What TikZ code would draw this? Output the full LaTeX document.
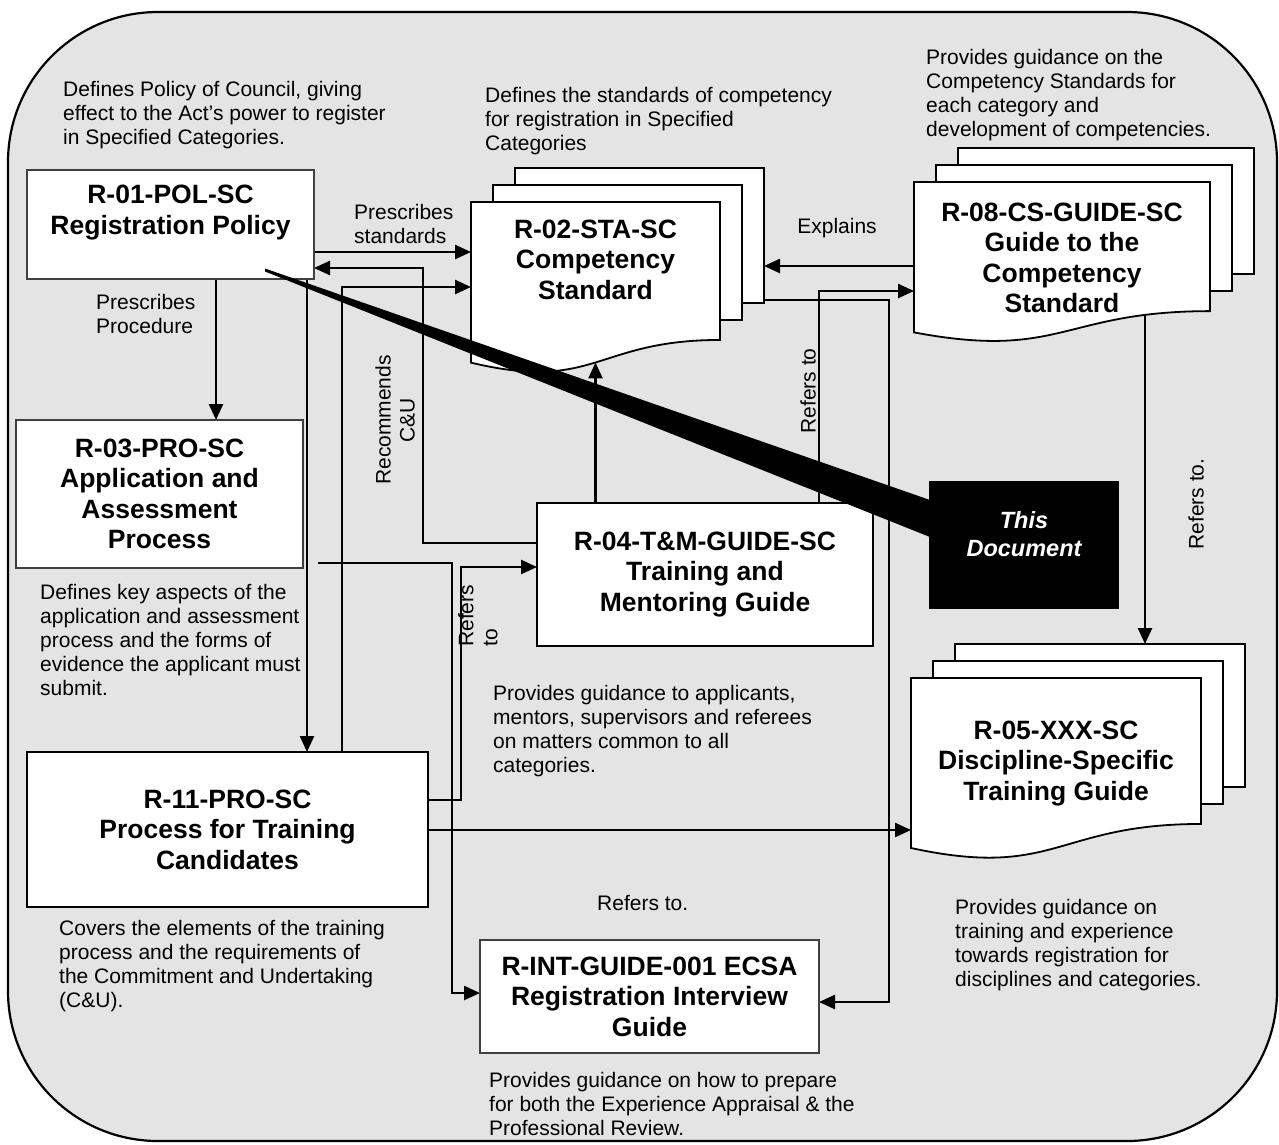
\documentclass[tikz,border=0pt]{standalone}
\usepackage{fontspec}
\setmainfont{Liberation Sans}
\usetikzlibrary{arrows.meta, calc, backgrounds}

\definecolor{panelgray}{gray}{0.895}

% stack of three sheets: name, left x, top y, width, height H, node height, title
\newcommand{\docstack}[7]{%
  \foreach \k in {2,1}
    \filldraw[sheet] (#2+\k*22,#3-\k*17) rectangle (#2+\k*22+#4,#3-\k*17+0.785*#5);
  \filldraw[sheet] (#2,#3) -- (#2+#4,#3) -- (#2+#4,#3+0.802*#5)
    .. controls (#2+0.5*#4,#3+0.802*#5) and (#2+0.5*#4,#3+1.107*#5) .. (#2,#3+0.934*#5) -- cycle;
  \node[title, minimum width=#4pt, minimum height=#6pt, anchor=north west] (#1) at (#2,#3) {#7};
  \coordinate (#1-wave) at (#2+0.5*#4,#3+0.933*#5);
  \coordinate (#1-back) at (#2+44+#4,#3-34);
}

\begin{document}
\begin{tikzpicture}[x=1pt, y=-1pt,
    box/.style={draw=black!75, line width=1.3pt, fill=white, inner sep=0pt, outer sep=0pt},
    title/.style={font=\bfseries\fontsize{26.5}{30.5}\selectfont, align=center, inner sep=0pt, outer sep=0pt},
    note/.style={font=\fontsize{21}{24}\selectfont, align=left, anchor=north west, inner sep=0pt},
    sidenote/.style={font=\fontsize{21}{24}\selectfont, align=center, rotate=90, inner sep=0pt},
    sheet/.style={fill=white, draw=black, line width=1.8pt},
    arrow/.style={-{Triangle[length=16pt,width=14pt]}, line width=2.5pt}
]
    \useasboundingbox (0,0) rectangle (1279,1144);
    \begin{scope}[on background layer]
        \draw[fill=panelgray, line width=2.2pt, rounded corners=150pt] (8,12) rectangle (1277,1141);
    \end{scope}

    % boxes
    \node[box, minimum width=287pt, minimum height=109pt,
          label={[title, yshift=12pt]center:{R-01-POL-SC\\Registration Policy}}] (r01) at (170.5,224.5) {};
    \node[box, title, minimum width=287pt, minimum height=148pt] (r03) at (159.5,494) {R-03-PRO-SC\\Application and\\Assessment\\Process};
    \node[box, title, draw=black, minimum width=401pt, minimum height=155pt] (r11) at (227.5,829.5) {R-11-PRO-SC\\Process for Training\\Candidates};
    \node[box, title, draw=black, line width=2.2pt, minimum width=336pt, minimum height=143pt] (r04) at (705,574.5) {R-04-T\&M-GUIDE-SC\\Training and\\Mentoring Guide};
    \node[box, title, minimum width=339pt, minimum height=113pt] (rint) at (649.5,996.5) {R-INT-GUIDE-001 ECSA\\Registration Interview\\Guide};

    % document stacks
    \docstack{r02}{471}{202}{249}{172}{115}{R-02-STA-SC\\Competency\\Standard}
    \docstack{r08}{914}{182}{296}{161}{152}{R-08-CS-GUIDE-SC\\Guide to the\\Competency\\Standard}
    \docstack{r05}{911}{678}{290}{182}{171}{R-05-XXX-SC\\Discipline-Specific\\Training Guide}

    % connectors
    \begin{scope}[on background layer]
        \draw[arrow] (r01.east |- 0,252) -- (r02.west |- 0,252);
        \draw[arrow] (r04.west |- 0,543) -| (423,268) -- (r01.east |- 0,268);
        \draw[arrow] (r11.north -| 342,0) |- (r02.west |- 0,287);
        \draw[arrow] (r01.south -| 307,0) -- (r11.north -| 307,0);
        \draw[arrow] (r01.south -| 216,0) -- (r03.north -| 216,0);
        \draw[arrow] ($(r03.east)+(15,69)$) -| (452,993) -- (rint.west |- 0,993);
        \draw[arrow] (r11.east |- 0,800) -| (461,567) -- (r04.west |- 0,567);
        \draw[arrow] (r11.east |- 0,830) -- (r05.west |- 0,830);
        \draw[arrow] (r04.north -| r02-wave) -- (r02-wave);
        \draw[arrow] (r08.west |- 0,266) -- (r02-back |- 0,266);
        \draw[arrow] (r02-back |- 0,300) -| (889,1002) -- (rint.east |- 0,1002);
        \draw[arrow] (r04.north -| 819,0) |- (r08.west |- 0,291);
        \draw[arrow] (r08.center -| 1145,0) -- (1145,0 |- r05-back);
    \end{scope}

    % connector labels
    \node[note] (lstd) at (354,204) {Prescribes\\standards};
    \node[note] (lproc) at (96,294) {Prescribes\\Procedure};
    \node[note, anchor=center] (lexp) at (837,228) {Explains};
    \node[sidenote] (lrec) at (395,420) {Recommends\\C\&U};
    \node[sidenote, align=left, anchor=north west] (lref1) at (458,647) {Refers\\to};
    \node[sidenote] (lref2) at (808,391) {Refers to};
    \node[sidenote] (lref3) at (1196,504) {Refers to.};
    \node[note] (lref4) at (597,895) {Refers to.};

    % descriptions
    \node[note] (d01) at (63,81) {Defines Policy of Council, giving\\effect to the Act’s power to register\\in Specified Categories.};
    \node[note] (d02) at (485,87) {Defines the standards of competency\\for registration in Specified\\Categories};
    \node[note] (d08) at (926,49) {Provides guidance on the\\Competency Standards for\\each category and\\development of competencies.};
    \node[note] (d03) at (40,584) {Defines key aspects of the\\application and assessment\\process and the forms of\\evidence the applicant must\\submit.};
    \node[note] (d04) at (493,685) {Provides guidance to applicants,\\mentors, supervisors and referees\\on matters common to all\\categories.};
    \node[note] (d11) at (59,920) {Covers the elements of the training\\process and the requirements of\\the Commitment and Undertaking\\(C\&U).};
    \node[note] (d05) at (955,899) {Provides guidance on\\training and experience\\towards registration for\\disciplines and categories.};
    \node[note] (dint) at (489,1072) {Provides guidance on how to prepare\\for both the Experience Appraisal \& the\\Professional Review.};

    % pointer to this document
    \node[box, fill=black, draw=black, minimum width=188pt, minimum height=126pt,
          label={[title, text=white, font=\bfseries\itshape\fontsize{23.5}{28}\selectfont, yshift=11pt]center:{This\\Document}}] (thisdoc) at (1024,545) {};
    \fill ($(r01.center)+(94.5,44)$) -- ($(thisdoc.north west)+(0,18)$) -- ($(thisdoc.north west)+(0,55)$) -- ($(r01.center)+(94.5,47)$) -- cycle;
\end{tikzpicture}
\end{document}
